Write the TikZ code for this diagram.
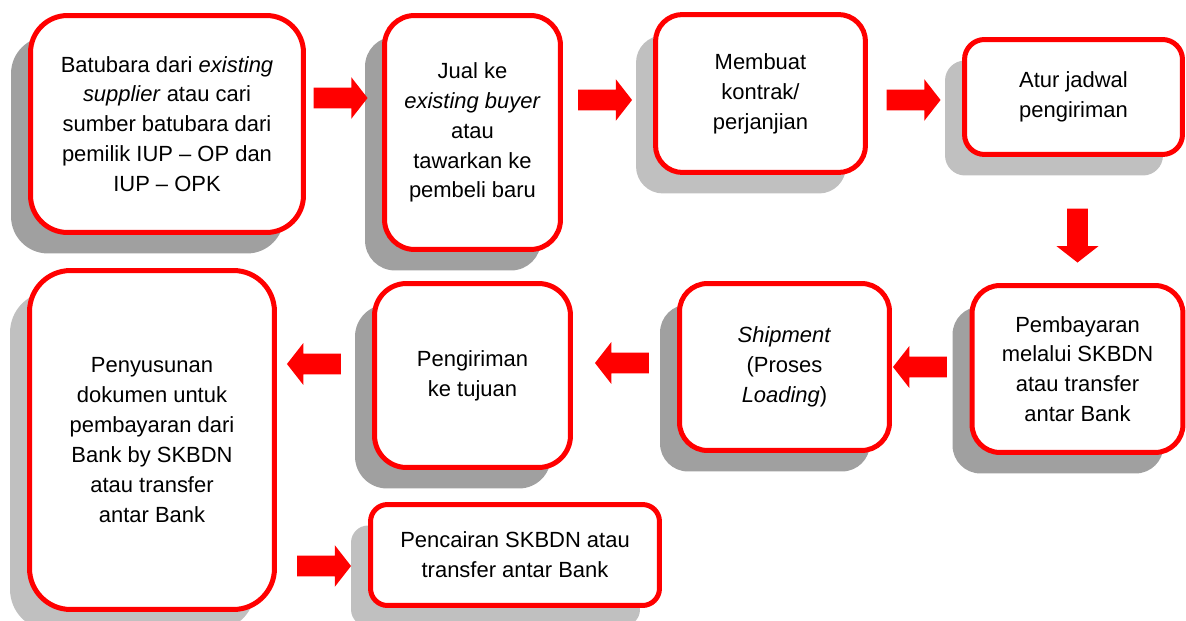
\documentclass[tikz,border=0pt]{standalone}
\usepackage{fontspec}
\setmainfont{Liberation Sans}
\usetikzlibrary{shapes.arrows, shadows}
\definecolor{boxred}{RGB}{255, 0, 0}
\definecolor{shadedark}{RGB}{160, 160, 160}
\definecolor{shadelight}{RGB}{192, 192, 192}

\begin{document}
\begin{tikzpicture}[
    x=0.02cm, y=-0.02cm,
    flowbox/.style={
        rectangle,
        draw=boxred,
        fill=white,
        line width=0.1cm,
        align=center,
        inner sep=0pt,
        font=\fontsize{12.5}{17}\selectfont
    },
    darkbox/.style={flowbox, general shadow={shadow xshift=-0.39cm, shadow yshift=-0.42cm, fill=shadedark, draw=none}},
    lightbox/.style={flowbox, general shadow={shadow xshift=-0.39cm, shadow yshift=-0.42cm, fill=shadelight, draw=none}},
    blockarrow/.style={
        single arrow,
        fill=boxred,
        draw=none,
        inner sep=0.2cm,
        minimum height=1.08cm,
        single arrow head extend=0.21cm,
        single arrow tip angle=104
    }
]

    \useasboundingbox (0,0) rectangle (1186,621);

    % --- Row 1 ---

    \node[darkbox, minimum width=5.46cm, minimum height=4.34cm, rounded corners=0.74cm] (supply) at (167,124) {
        Batubara dari \textit{existing}\\
        \textit{supplier} atau cari\\
        sumber batubara dari\\
        pemilik IUP -- OP dan\\
        IUP -- OPK
    };

    \node[darkbox, minimum width=3.52cm, minimum height=4.68cm, rounded corners=0.6cm] (sell) at (472.5,132.5) {
        Jual ke\\
        \textit{existing buyer}\\
        atau\\
        tawarkan ke\\
        pembeli baru
    };

    \node[lightbox, minimum width=4.2cm, minimum height=3.16cm, rounded corners=0.54cm] (contract) at (760.5,93.5) {
        Membuat\\
        kontrak/\\
        perjanjian
    };

    \node[lightbox, minimum width=4.36cm, minimum height=2.3cm, rounded corners=0.4cm] (schedule) at (1073.5,97) {
        Atur jadwal\\
        pengiriman
    };

    % Arrows
    \node[blockarrow] (arr1) at (336.5,98) {};
    \node[blockarrow] (arr2) at (601,100) {};
    \node[blockarrow] (arr3) at (909.5,100) {};
    \node[blockarrow, shape border rotate=270] (arr4) at (1077.5,231.5) {};

    % --- Row 2 ---

    \node[darkbox, minimum width=4.22cm, minimum height=3.34cm, rounded corners=0.56cm] (payment) at (1077.5,369) {
        Pembayaran\\
        melalui SKBDN\\
        atau transfer\\
        antar Bank
    };

    \node[darkbox, minimum width=4.2cm, minimum height=3.34cm, rounded corners=0.56cm] (shipment) at (784.5,367) {
        \textit{Shipment}\\
        (Proses\\
        \textit{Loading})
    };

    \node[darkbox, minimum width=3.92cm, minimum height=3.68cm, rounded corners=0.64cm] (delivery) at (472.5,375.5) {
        Pengiriman\\
        ke tujuan
    };

    \node[lightbox, minimum width=4.9cm, minimum height=6.78cm, rounded corners=0.82cm] (documents) at (152,440) {
        Penyusunan\\
        dokumen untuk\\
        pembayaran dari\\
        Bank by SKBDN\\
        atau transfer\\
        antar Bank
    };

    % Arrows
    \node[blockarrow, shape border rotate=180] (arr5) at (924,367) {};
    \node[blockarrow, shape border rotate=180] (arr6) at (626,363) {};
    \node[blockarrow, shape border rotate=180] (arr7) at (318,364) {};

    % --- Row 3 ---

    \node[lightbox, minimum width=5.78cm, minimum height=2.02cm, rounded corners=0.34cm] (release) at (515,555) {
        Pencairan SKBDN atau\\
        transfer antar Bank
    };

    \node[blockarrow] (arr8) at (320,566) {};

\end{tikzpicture}
\end{document}
